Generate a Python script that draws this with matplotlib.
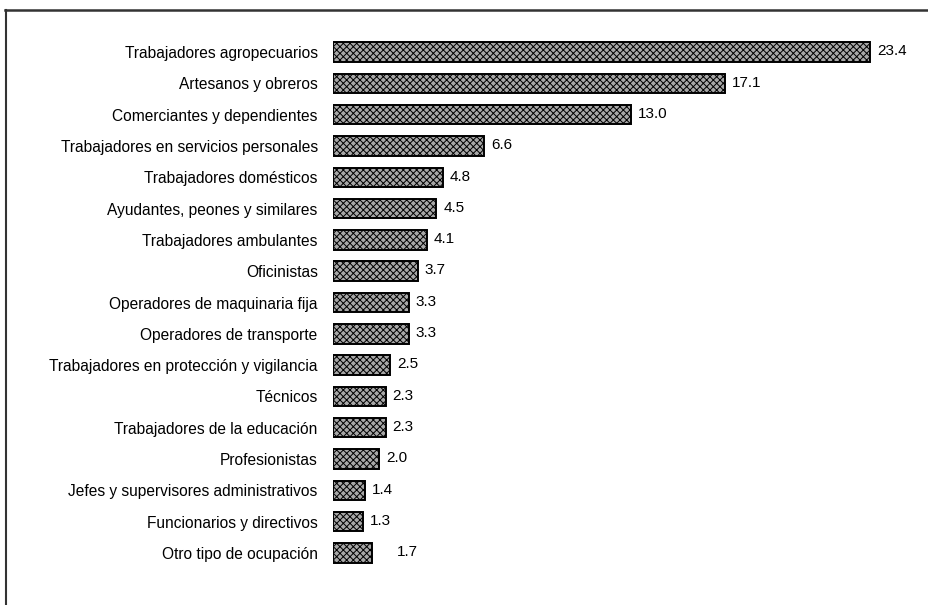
import numpy as np
import matplotlib
matplotlib.use('Agg')
import matplotlib.pyplot as plt
from matplotlib.lines import Line2D

# Ocupaciones y porcentajes
categorias = ['Trabajadores agropecuarios', 'Artesanos y obreros',
              'Comerciantes y dependientes', 'Trabajadores en servicios personales',
              'Trabajadores domésticos', 'Ayudantes, peones y similares',
              'Trabajadores ambulantes', 'Oficinistas',
              'Operadores de maquinaria fija', 'Operadores de transporte',
              'Trabajadores en protección y vigilancia', 'Técnicos',
              'Trabajadores de la educación', 'Profesionistas',
              'Jefes y supervisores administrativos', 'Funcionarios y directivos',
              'Otro tipo de ocupación']
valores = [23.4, 17.1, 13.0, 6.6, 4.8, 4.5, 4.1, 3.7, 3.3, 3.3, 2.5, 2.3, 2.3,
           2.0, 1.4, 1.3, 1.7]
etiquetas = ['23.4', '17.1', '13.0', '6.6', '4.8', '4.5', '4.1', '3.7', '3.3',
             '3.3', '2.5', '2.3', '2.3', '2.0', '1.4', '1.3', '1.7']

plt.rcParams['font.family'] = ['Liberation Sans Narrow', 'Liberation Sans', 'DejaVu Sans']
plt.rcParams['hatch.linewidth'] = 0.7
plt.rcParams['hatch.color'] = '#444444'

W, H = 929, 605
fig = plt.figure(figsize=(W / 100, H / 100), dpi=100)
fig.patch.set_facecolor('white')

# axes placed in pixels
x0, x1 = 333, 920
y_top, y_bot = 36.3, 568.7
ax = fig.add_axes([x0 / W, 1 - y_bot / H, (x1 - x0) / W, (y_bot - y_top) / H])

xmax = (x1 - x0) / ((870 - 333) / 23.4)
y = np.arange(len(categorias))
ax.barh(y, valores, height=0.62, color='#a8a8a8', edgecolor='black',
        linewidth=1.4, hatch='xxxxx')

for i, (v, t) in enumerate(zip(valores, etiquetas)):
    off = 18 if i == len(valores) - 1 else 5
    ax.annotate(t, (v, i), xytext=(off, 0.5), textcoords='offset points',
                va='center', ha='left', fontsize=11)

ax.set_xlim(0, xmax)
ax.set_ylim(len(categorias) - 0.5, -0.5)
ax.set_yticks(y)
ax.set_yticklabels(categorias, fontsize=11.2)
ax.tick_params(axis='y', length=0, pad=11)
ax.set_xticks([])
for s in ax.spines.values():
    s.set_visible(False)

# outer frame (top and left only)
fig.add_artist(Line2D([5 / W, 1], [1 - 10 / H, 1 - 10 / H], color='#333333',
                      linewidth=1.8, transform=fig.transFigure))
fig.add_artist(Line2D([6 / W, 6 / W], [1 - 10 / H, 0], color='#333333',
                      linewidth=1.5, transform=fig.transFigure))

fig.savefig('out.png', dpi=100)
